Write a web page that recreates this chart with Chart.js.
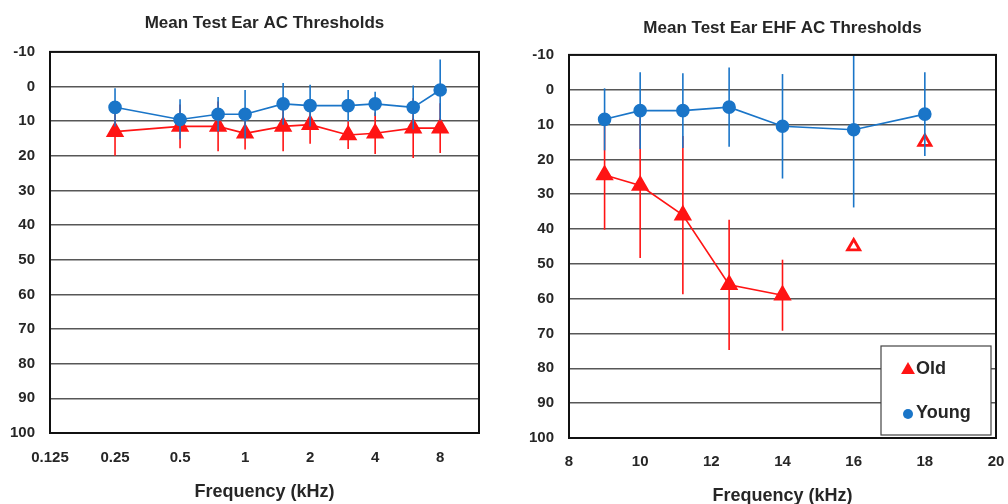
<!DOCTYPE html>
<html>
<head>
<meta charset="utf-8">
<script src="https://cdn.jsdelivr.net/npm/chart.js@4.4.1/dist/chart.umd.min.js"></script>
<style>
  body { margin: 0; background: #fff; }
  .box { position: absolute; top: 0; height: 504px; }
  #leftBox { left: 0; width: 500px; }
  #rightBox { left: 500px; width: 508px; }
</style>
</head>
<body>
<div class="box" id="leftBox"><canvas id="acChart"></canvas></div>
<div class="box" id="rightBox"><canvas id="ehfChart"></canvas></div>
<script>
// standard frequencies (kHz)
const acFreqs = [0.25, 0.5, 0.75, 1, 1.5, 2, 3, 4, 6, 8];
const acOld = [13, 11.5, 11.5, 13.5, 11.5, 11, 14, 13.5, 12, 12];
const acOldSd = [7, 6.3, 7.2, 4.7, 7.2, 5.5, 4, 6, 8.6, 7.2];
const acYoung = [6, 9.5, 8, 8, 5, 5.5, 5.5, 5, 6, 1];
const acYoungSd = [5.5, 5.8, 5, 7, 6, 6, 4.5, 3.5, 6.3, 8.8];
const acTicks = [0.125, 0.25, 0.5, 1, 2, 4, 8];

// extended high frequencies (kHz)
const ehfOldFreqs = [9, 10, 11.2, 12.5, 14];
const ehfOld = [24.5, 27.5, 36, 56, 59];
const ehfOldSd = [15.7, 20.8, 22.7, 18.7, 10.2];
const ehfOldFewFreqs = [16, 18];
const ehfOldFew = [45, 15];
const ehfYoungFreqs = [9, 10, 11.2, 12.5, 14, 16, 18];
const ehfYoung = [8.5, 6, 6, 5, 10.5, 11.5, 7];
const ehfYoungSd = [8.9, 11, 10.7, 11.4, 15, 22.3, 12];

const RED = '#ff1414';
const BLUE = '#1a75c8';
const TXT = '#262626';
const FONT = "'Liberation Sans', Arial, sans-serif";

const pts = (xs, ys) => xs.map((x, i) => ({ x: x, y: ys[i] }));

// vertical error bars, drawn just before each dataset so the stacking follows 'order'
const errorBars = {
  id: 'errorBars',
  beforeDatasetDraw(chart, args) {
    const ds = chart.data.datasets[args.index];
    if (!ds.errors) return;
    const { ctx, chartArea, scales: { x, y } } = chart;
    ctx.save();
    ctx.beginPath();
    ctx.rect(chartArea.left, chartArea.top, chartArea.width, chartArea.height);
    ctx.clip();
    ctx.strokeStyle = ds.borderColor;
    ctx.lineWidth = 1.6;
    ds.data.forEach((p, i) => {
      const px = x.getPixelForValue(p.x);
      ctx.beginPath();
      ctx.moveTo(px, y.getPixelForValue(p.y - ds.errors[i]));
      ctx.lineTo(px, y.getPixelForValue(p.y + ds.errors[i]));
      ctx.stroke();
    });
    ctx.restore();
  }
};

// black frame round the plot area
const frame = {
  id: 'frame',
  afterDatasetsDraw(chart) {
    const { ctx, chartArea: a } = chart;
    ctx.save();
    ctx.strokeStyle = '#111';
    ctx.lineWidth = 2;
    ctx.strokeRect(a.left, a.top, a.width, a.height);
    ctx.restore();
  }
};

// boxed legend in the lower right corner
const boxLegend = {
  id: 'boxLegend',
  afterDraw(chart) {
    const items = chart.data.datasets.filter(d => d.inLegend);
    if (!items.length) return;
    const { ctx, chartArea: a } = chart;
    const w = 110, h = 89;
    const bx = a.right - 5 - w, by = a.bottom - 3 - h;
    ctx.save();
    ctx.fillStyle = '#fff';
    ctx.fillRect(bx, by, w, h);
    ctx.strokeStyle = '#444';
    ctx.lineWidth = 1.2;
    ctx.strokeRect(bx, by, w, h);
    ctx.font = 'bold 18px ' + FONT;
    ctx.textBaseline = 'middle';
    items.forEach((d, i) => {
      const cy = by + 23 + i * 44;
      ctx.fillStyle = d.backgroundColor;
      Chart.helpers.drawPoint(ctx, { pointStyle: d.pointStyle, radius: d.pointRadius - 1, borderWidth: 0 }, bx + 27, cy + 1);
      ctx.fillStyle = TXT;
      ctx.fillText(d.label, bx + 35, cy);
    });
    ctx.restore();
  }
};

function yScale(axisWidth) {
  return {
    reverse: true,
    min: -10,
    max: 100,
    ticks: { stepSize: 10, padding: 15, color: TXT, font: { family: FONT, size: 15, weight: 'bold' } },
    grid: { color: '#575757', lineWidth: 1.6, drawTicks: false },
    border: { display: false },
    afterFit(scale) { scale.width = axisWidth; }
  };
}

function titleOpts(text, top, bottom) {
  return {
    display: true,
    text: text,
    fullSize: false,
    color: TXT,
    font: { family: FONT, size: 17, weight: 'bold' },
    padding: { top: top, bottom: bottom }
  };
}

function axisTitle(bottom) {
  return {
    display: true,
    text: 'Frequency (kHz)',
    color: TXT,
    font: { family: FONT, size: 18, weight: 'bold' },
    padding: { top: 0, bottom: bottom }
  };
}

new Chart(document.getElementById('acChart'), {
  type: 'scatter',
  data: {
    datasets: [{
      label: 'Old',
      data: pts(acFreqs, acOld),
      errors: acOldSd,
      showLine: true,
      borderColor: RED,
      backgroundColor: RED,
      borderWidth: 1.6,
      pointStyle: 'triangle',
      pointRadius: 9,
      order: 2
    }, {
      label: 'Young',
      data: pts(acFreqs, acYoung),
      errors: acYoungSd,
      showLine: true,
      borderColor: BLUE,
      backgroundColor: BLUE,
      borderWidth: 1.6,
      pointStyle: 'circle',
      pointRadius: 6,
      order: 1
    }]
  },
  options: {
    responsive: true,
    maintainAspectRatio: false,
    animation: false,
    layout: { padding: { left: 0, right: 21, top: 0, bottom: 0 } },
    plugins: {
      legend: { display: false },
      tooltip: { enabled: false },
      title: titleOpts('Mean Test Ear AC Thresholds', 13, 18.5)
    },
    scales: {
      x: {
        type: 'logarithmic',
        min: 0.125,
        max: 12.1,
        afterBuildTicks(scale) { scale.ticks = acTicks.map(v => ({ value: v })); },
        ticks: {
          padding: 8, color: TXT, autoSkip: false, maxRotation: 0,
          font: { family: FONT, size: 15, weight: 'bold' },
          callback: v => String(v)
        },
        grid: { display: false },
        border: { display: false },
        title: axisTitle(1),
        afterFit(scale) { scale.height = 71; scale.paddingLeft = 0; scale.paddingRight = 0; }
      },
      y: yScale(50)
    }
  },
  plugins: [errorBars, frame]
});

new Chart(document.getElementById('ehfChart'), {
  type: 'scatter',
  data: {
    datasets: [{
      label: 'Old',
      inLegend: true,
      data: pts(ehfOldFreqs, ehfOld),
      errors: ehfOldSd,
      showLine: true,
      borderColor: RED,
      backgroundColor: RED,
      borderWidth: 1.6,
      pointStyle: 'triangle',
      pointRadius: 9,
      order: 3
    }, {
      label: 'Old (few listeners)',
      data: pts(ehfOldFewFreqs, ehfOldFew),
      showLine: false,
      borderColor: RED,
      backgroundColor: '#fff',
      pointBorderWidth: 2.8,
      pointStyle: 'triangle',
      pointRadius: 7,
      order: 2
    }, {
      label: 'Young',
      inLegend: true,
      data: pts(ehfYoungFreqs, ehfYoung),
      errors: ehfYoungSd,
      showLine: true,
      borderColor: BLUE,
      backgroundColor: BLUE,
      borderWidth: 1.6,
      pointStyle: 'circle',
      pointRadius: 6,
      order: 1
    }]
  },
  options: {
    responsive: true,
    maintainAspectRatio: false,
    animation: false,
    layout: { padding: { left: 0, right: 12, top: 0, bottom: 0 } },
    plugins: {
      legend: { display: false },
      tooltip: { enabled: false },
      title: titleOpts('Mean Test Ear EHF AC Thresholds', 18.5, 16)
    },
    scales: {
      x: {
        type: 'linear',
        min: 8,
        max: 20,
        ticks: {
          stepSize: 2, padding: 7, color: TXT, maxRotation: 0,
          font: { family: FONT, size: 15, weight: 'bold' }
        },
        grid: { display: false },
        border: { display: false },
        title: axisTitle(-3),
        afterFit(scale) { scale.height = 66; scale.paddingLeft = 0; scale.paddingRight = 0; }
      },
      y: yScale(69)
    }
  },
  plugins: [errorBars, frame, boxLegend]
});
</script>
</body>
</html>
